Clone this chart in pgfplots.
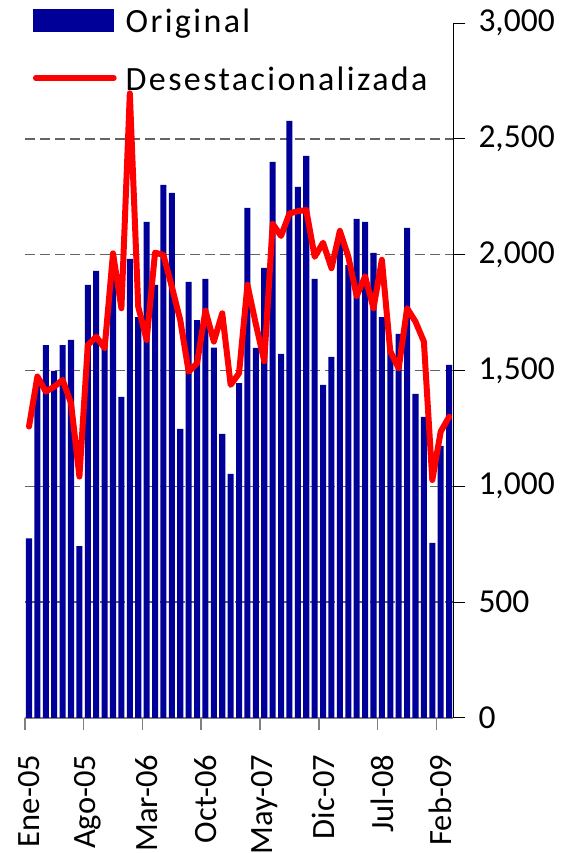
\documentclass[border=0pt]{standalone}
\usepackage{fontspec}
\setmainfont{Carlito}
\newfontfamily\legfont{Carlito}[LetterSpace=7]
\usepackage{pgfplots}
\usepackage{pgfplotstable}
\pgfplotsset{compat=1.18}
\definecolor{barblue}{RGB}{0,0,153}
\definecolor{gridc}{RGB}{100,100,100}

\pgfplotstableread{
i orig sa
0 775 1258
1 1470 1474
2 1610 1409
3 1498 1430
4 1610 1459
5 1632 1359
6 742 1042
7 1870 1610
8 1930 1646
9 1600 1596
10 1956 2006
11 1386 1769
12 1982 2697
13 1731 1776
14 2142 1632
15 1870 2009
16 2302 1999
17 2267 1862
18 1248 1718
19 1883 1495
20 1718 1531
21 1896 1759
22 1599 1625
23 1226 1747
24 1053 1438
25 1446 1488
26 2202 1870
27 1598 1700
28 1943 1540
29 2401 2133
30 1572 2081
31 2578 2178
32 2293 2188
33 2427 2193
34 1896 1991
35 1438 2052
36 1559 1942
37 2094 2103
38 1956 1992
39 2155 1822
40 2142 1906
41 2008 1769
42 1731 1978
43 1585 1582
44 1658 1510
45 2116 1769
46 1399 1711
47 1300 1625
48 755 1027
49 1174 1236
50 1524 1300
}\data

\begin{document}
\begin{tikzpicture}
\useasboundingbox (-24.8bp,-135.2bp) rectangle (537.2bp,717.8bp);
\begin{axis}[
  at={(0,0)}, anchor=south west,
  scale only axis, width=428.5bp, height=694.6bp,
  xmin=-0.5, xmax=50.5, ymin=0, ymax=3000,
  axis x line*=bottom, axis y line*=right,
  x axis line style={draw=gray, line width=1.5bp, -},
  y axis line style={draw=black, line width=1bp, -},
  tick align=outside, major tick length=12bp,
  xtick={-0.5,6.5,...,48.5}, xticklabels={},
  xtick style={draw=gray, line width=1.5bp},
  extra x ticks={0,7,...,49},
  extra x tick labels={Ene-05,Ago-05,Mar-06,Oct-06,May-07,Dic-07,Jul-08,Feb-09},
  extra x tick style={xtick style={draw=none}},
  ytick={0,500,...,3000},
  ytick style={draw=black, line width=1bp},
  extra y ticks={500,1000,...,2500},
  extra y tick labels={},
  extra y tick style={grid=major, ytick style={draw=none}},
  grid style={draw=gridc, line width=1.5bp, dash pattern=on 10bp off 5bp},
  scaled y ticks=false,
  tick label style={font=\fontsize{33.5bp}{40bp}\selectfont, inner sep=0pt},
  xticklabel style={rotate=90, anchor=east, font=\fontsize{32.5bp}{40bp}\selectfont},
  yticklabel style={anchor=west},
  xticklabel shift=25bp,
  yticklabel shift=13bp,
  /pgf/number format/1000 sep={,},
  /pgf/number format/assume math mode=true,
  legend style={at={(0.019,1.0305)}, anchor=north west, draw=none, fill=none,
    inner sep=0pt, outer sep=0pt, row sep=22bp,
    font=\legfont\fontsize{34bp}{40bp}\selectfont,
    nodes={inner sep=0pt, text height=30bp, text depth=6bp},
    /tikz/every odd column/.append style={column sep=9bp}},
  legend cell align=left,
]
\addplot[ybar, bar width=0.72, fill=barblue, draw=none,
  legend image code/.code={\fill[barblue] (0bp,-11.5bp) rectangle (81bp,11.5bp);}]
  table[x=i, y=orig]{\data};
\addlegendentry{Original}
\addplot[draw=red, line width=6bp, line join=round, line cap=round, mark=none,
  legend image code/.code={\draw[red, line width=5.5bp, line cap=round] (2.75bp,0bp) -- (81bp,0bp);}]
  table[x=i, y=sa]{\data};
\addlegendentry{Desestacionalizada}
\end{axis}
\end{tikzpicture}
\end{document}
